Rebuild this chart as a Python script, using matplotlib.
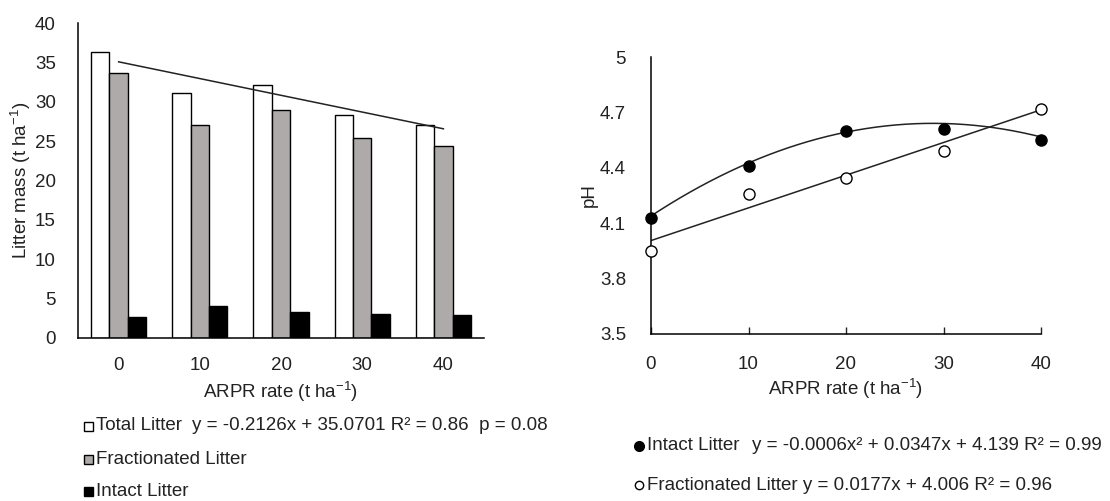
import numpy as np
import matplotlib
matplotlib.use("Agg")
import matplotlib.pyplot as plt
from matplotlib.lines import Line2D
from matplotlib.patches import Rectangle

plt.rcParams['font.family'] = ['Liberation Sans', 'DejaVu Sans']
plt.rcParams['mathtext.default'] = 'regular'

# ---------------- data ----------------
rates = [0, 10, 20, 30, 40]
rate_labels = ['0', '10', '20', '30', '40']
total_litter = [36.3, 31.1, 32.1, 28.3, 27.1]
fractionated_litter = [33.7, 27.1, 29.0, 25.4, 24.4]
intact_litter = [2.7, 4.1, 3.3, 3.1, 2.9]
total_slope, total_intercept = -0.2126, 35.0701

ph_intact = [4.13, 4.41, 4.60, 4.61, 4.55]
ph_fractionated = [3.95, 4.26, 4.345, 4.49, 4.72]
intact_coef = [-0.0006, 0.0347, 4.139]   # quadratic
frac_coef = [0.0177, 4.006]               # linear

W, H = 1110, 501
fig = plt.figure(figsize=(W / 100, H / 100), dpi=100)

def fx(px):
    return px / W

def fy(py):
    return 1 - py / H

FS = 13.5
gray = '#aeaaaa'
txt = '#222222'

# ---------------- left: bar chart ----------------
axL = fig.add_axes([fx(78), fy(338), fx(484) - fx(78), fy(23) - fy(338)])
x = np.arange(len(rates))
bw = 0.227
axL.bar(x - bw, total_litter, bw, color='white', edgecolor='black', linewidth=1.0)
axL.bar(x, fractionated_litter, bw, color=gray, edgecolor='black', linewidth=1.0)
axL.bar(x + bw, intact_litter, bw, color='black', edgecolor='black', linewidth=1.0)
r = np.array(rates, dtype=float)
axL.plot([x[0], x[-1]], [total_intercept + total_slope * r[0], total_intercept + total_slope * r[-1]],
         color=txt, linewidth=1.1)
axL.set_xlim(-0.5, len(rates) - 0.5)
axL.set_ylim(0, 40)
axL.set_yticks(np.arange(0, 41, 5))
axL.set_xticks(x)
axL.set_xticklabels(rate_labels)
axL.tick_params(axis='both', length=0, labelsize=FS, colors=txt)
axL.tick_params(axis='y', pad=16)
axL.tick_params(axis='x', pad=14)
for s in ['top', 'right']:
    axL.spines[s].set_visible(False)
for s in ['left', 'bottom']:
    axL.spines[s].set_linewidth(1.1)
axL.set_ylabel('Litter mass (t ha$^{-1}$)', fontsize=FS, color=txt)
axL.yaxis.set_label_coords((33 - 78) / 406, 0.5)
axL.set_xlabel('ARPR rate (t ha$^{-1}$)', fontsize=FS, labelpad=4, color=txt)

# ---------------- right: pH ----------------
axR = fig.add_axes([fx(651), fy(334), fx(1041) - fx(651), fy(57) - fy(334)])
xs = np.linspace(0, 40, 200)
axR.plot(xs, np.polyval(intact_coef, xs), color=txt, linewidth=1.1)
axR.plot(xs, np.polyval(frac_coef, xs), color=txt, linewidth=1.1)
axR.plot(rates, ph_intact, 'o', color='black', markersize=8, clip_on=False, zorder=5)
axR.plot(rates, ph_fractionated, 'o', markerfacecolor='white', markeredgecolor='black',
         markeredgewidth=1.0, markersize=8, clip_on=False, zorder=5)
axR.set_xlim(0, 40)
axR.set_ylim(3.5, 5.0)
axR.set_xticks(rates)
axR.set_xticklabels(rate_labels)
axR.set_yticks([3.5, 3.8, 4.1, 4.4, 4.7, 5.0])
axR.set_yticklabels(['3.5', '3.8', '4.1', '4.4', '4.7', '5'])
axR.tick_params(axis='x', direction='in', length=5, width=1.0, labelsize=FS, pad=16, colors=txt)
axR.tick_params(axis='y', length=0, labelsize=FS, pad=18, colors=txt)
for s in ['top', 'right']:
    axR.spines[s].set_visible(False)
for s in ['left', 'bottom']:
    axR.spines[s].set_linewidth(1.1)
axR.set_ylabel('pH', fontsize=FS, color=txt)
axR.yaxis.set_label_coords((598 - 651) / 390, 0.5)
axR.set_xlabel('ARPR rate (t ha$^{-1}$)', fontsize=FS, labelpad=2.5, color=txt)

# ---------------- left legend ----------------
sq = 9
leg_rows = [(426, 'white', 'Total Litter'), (459, gray, 'Fractionated Litter'), (491, 'black', 'Intact Litter')]
for py, col, lab in leg_rows:
    fig.add_artist(Rectangle((fx(84), fy(py + sq / 2)), fx(sq), sq / H, transform=fig.transFigure,
                             facecolor=col, edgecolor='black', linewidth=1.0))
    fig.text(fx(96), fy(py), lab, fontsize=FS, va='center', ha='left', color=txt)
fig.text(fx(192), fy(426), 'y = -0.2126x + 35.0701 R² = 0.86  p = 0.08', fontsize=FS,
         va='center', ha='left', color=txt)

# ---------------- right legend ----------------
fig.add_artist(Line2D([fx(639)], [fy(446)], marker='o', color='black', markersize=7,
                      transform=fig.transFigure))
fig.text(fx(647), fy(446), 'Intact Litter', fontsize=FS, va='center', ha='left', color=txt)
fig.text(fx(752), fy(446), 'y = -0.0006x² + 0.0347x + 4.139 R² = 0.99', fontsize=FS,
         va='center', ha='left', color=txt)
fig.add_artist(Line2D([fx(639)], [fy(485)], marker='o', markerfacecolor='white',
                      markeredgecolor='black', markersize=6, transform=fig.transFigure))
fig.text(fx(647), fy(485), 'Fractionated Litter y = 0.0177x + 4.006 R² = 0.96', fontsize=FS,
         va='center', ha='left', color=txt)

fig.savefig('out.png', dpi=100, facecolor='white')
